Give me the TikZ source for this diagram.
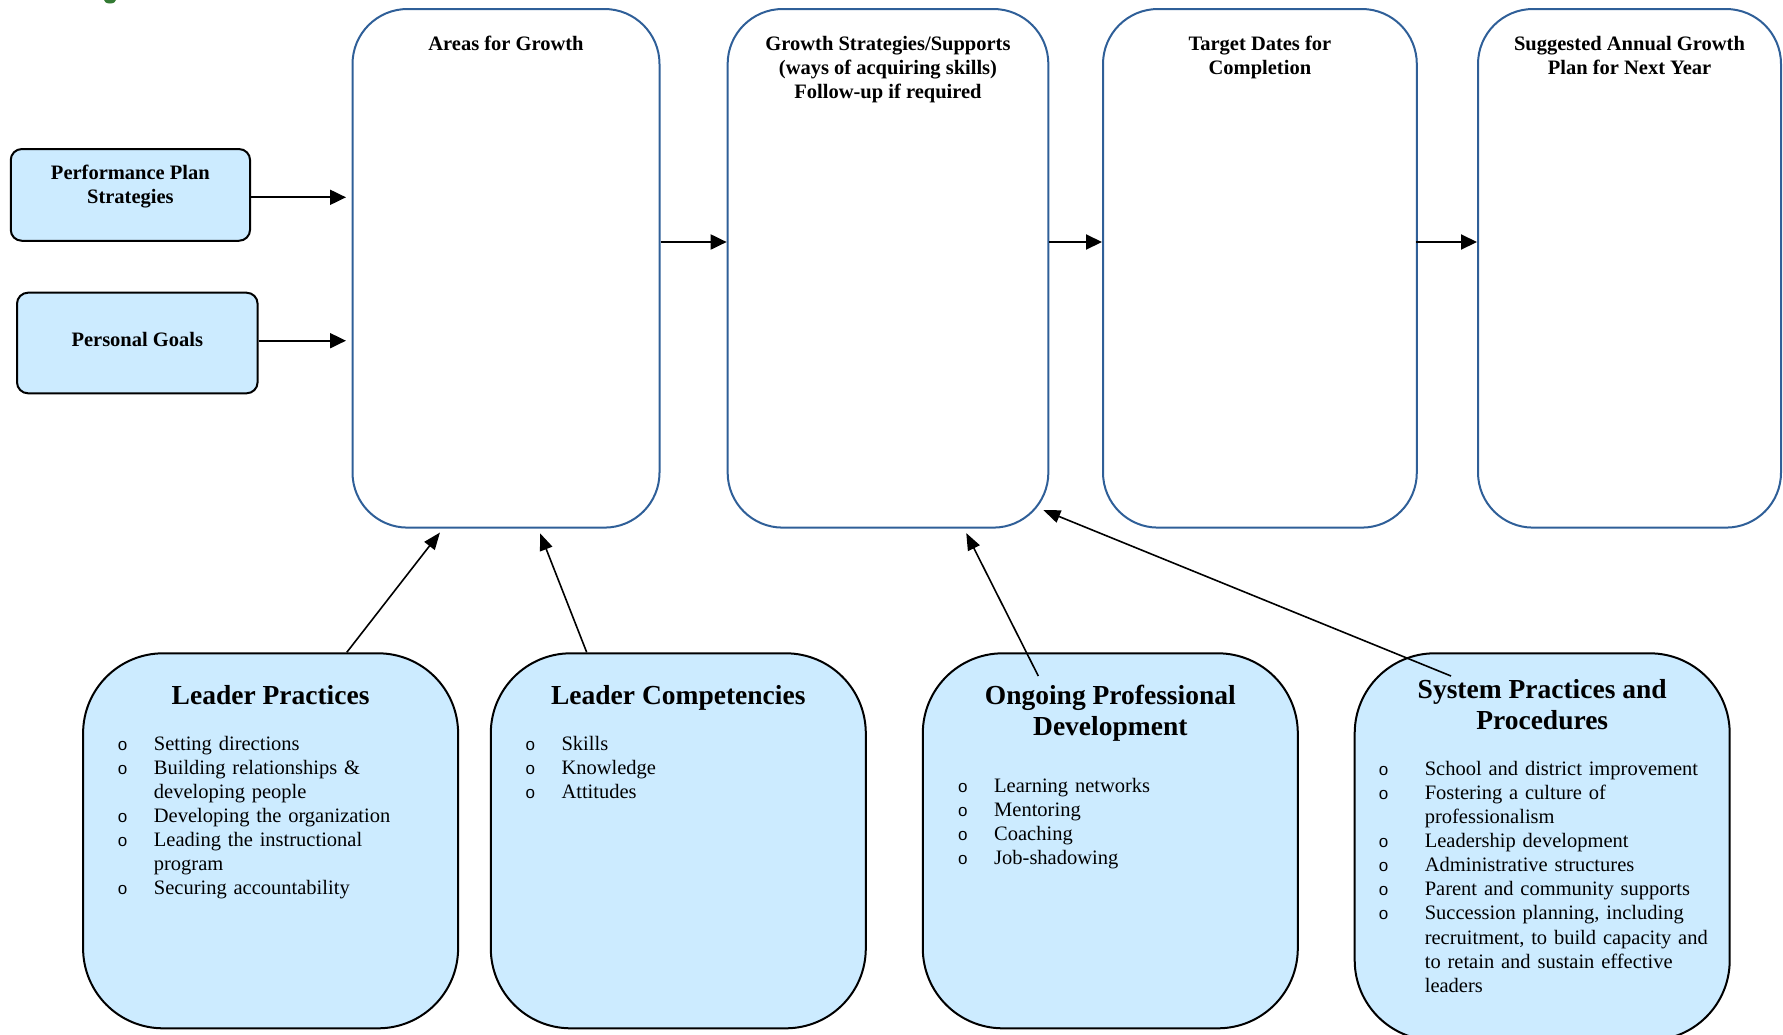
\documentclass[tikz,border=0pt]{standalone}
\usepackage{fontspec}
\setmainfont{Liberation Serif}
\newfontfamily\bulletfont{Liberation Sans}
\usetikzlibrary{arrows.meta}

\definecolor{boxblue}{RGB}{47,95,152}
\definecolor{paleblue}{RGB}{204,235,255}

% hanging bullet for the lists in the lower boxes
\newlength\bhang
\setlength\bhang{36pt}
\newcommand\bitem[1]{\par\hangindent=\bhang\hangafter=1\noindent\hbox to \bhang{\bulletfont\fontsize{17}{17}\selectfont o\hfil}#1\par}
\newcommand\itemcr{\hfil\break}

\tikzset{
  plan/.style={draw=boxblue, line width=2pt, rounded corners=55pt, minimum height=518.6pt, inner sep=0pt},
  source/.style={draw, line width=2pt, fill=paleblue, rounded corners=11pt, inner sep=0pt},
  factor/.style={draw, line width=2pt, fill=paleblue, rounded corners=80pt, minimum width=375pt, inner sep=0pt},
  head/.style={font=\bfseries\fontsize{20.5}{24}\selectfont, align=center, anchor=north, inner sep=0pt},
  bighead/.style={font=\bfseries\fontsize{27.5}{31}\selectfont, align=center, anchor=north, inner sep=0pt},
  items/.style={font=\fontsize{20.5}{24.1}\selectfont, text width=360pt, align=left, anchor=north west, inner sep=0pt},
  flow/.style={line width=2pt, -{Triangle[length=16pt,width=15pt]}},
  feed/.style={line width=1.6pt, -{Triangle[length=17pt,width=13pt]}}
}

\begin{document}
\begin{tikzpicture}[x=1pt,y=-1pt]
\useasboundingbox (0,0) rectangle (1783,1034);
\clip (0,0) rectangle (1783,1034);

% scrap of a picture cut off at the top edge
\fill[green!35!black!80] (110,0) ellipse (6 and 3.5);

% the four columns of the plan
\node[plan, minimum width=307pt] (areas) at (506,268.3) {};
\node[plan, minimum width=320.7pt] (growth) at (888,268.3) {};
\node[plan, minimum width=313.8pt] (target) at (1259.9,268.3) {};
\node[plan, minimum width=303pt] (nextyear) at (1629.5,268.3) {};

\node[head] (areastitle) at (506,35.8) {Areas for Growth};
\node[head] (growthtitle) at (888,36.3) {Growth Strategies/Supports\\(ways of acquiring skills)\\Follow-up if required};
\node[head] (targettitle) at (1259.9,35.8) {Target Dates for\\Completion};
\node[head] (nextyeartitle) at (1629.5,35.8) {Suggested Annual Growth\\Plan for Next Year};

% inputs on the left
\node[source, minimum width=239.3pt, minimum height=91.7pt] (plan) at (130.4,194.9) {};
\node[head] (plantext) at (130.4,164.5) {Performance Plan\\Strategies};
\node[source, minimum width=240.6pt, minimum height=100.6pt] (goals) at (137.3,343) {};
\node[head] (goalstext) at (137.3,331.8) {Personal Goals};

% the four sources of growth
\node[factor, minimum height=375pt] (practices) at (270.6,840.8) {};
\node[factor, minimum height=375pt] (competencies) at (678.3,840.8) {};
\node[factor, minimum height=375pt] (development) at (1110.3,840.8) {};
\node[factor, minimum height=387pt] (system) at (1542.2,846.8) {};

\node[bighead] (practicestitle) at (270.6,685.4) {Leader Practices};
\node[bighead] (competenciestitle) at (678.3,685.4) {Leader Competencies};
\node[bighead] (developmenttitle) at (1110.3,684.9) {Ongoing Professional\\Development};
\node[bighead] (systemtitle) at (1542.2,679.3) {System Practices and\\Procedures};

\node[items] (practiceslist) at (117.7,726) {%
\bitem{Setting directions}
\bitem{Building relationships \&\itemcr developing people}
\bitem{Developing the organization}
\bitem{Leading the instructional\itemcr program}
\bitem{Securing accountability}};
\node[items] (competencieslist) at (525.3,726) {%
\bitem{Skills}
\bitem{Knowledge}
\bitem{Attitudes}};
\node[items] (developmentlist) at (958,767.7) {%
\bitem{Learning networks}
\bitem{Mentoring}
\bitem{Coaching}
\bitem{Job-shadowing}};
\node[items] (systemlist) at (1378.6,751) {\setlength\bhang{46pt}%
\bitem{School and district improvement}
\bitem{Fostering a culture of\itemcr professionalism}
\bitem{Leadership development}
\bitem{Administrative structures}
\bitem{Parent and community supports}
\bitem{Succession planning, including\itemcr recruitment, to build capacity and\itemcr to retain and sustain effective\itemcr leaders}};

% arrows along the top row
\draw[flow, shorten >=5.5pt] ([yshift=-2.4pt]plan.east) -- ([yshift=-2.4pt]plan.east -| areas.west);
\draw[flow, shorten >=5.5pt] ([yshift=2.3pt]goals.east) -- ([yshift=2.3pt]goals.east -| areas.west);
\draw[flow] ([yshift=26.3pt]areas.east) -- ([yshift=26.3pt]growth.west);
\draw[flow] ([yshift=26.3pt]growth.east) -- ([yshift=26.3pt]target.west);
\draw[flow] ([xshift=-2pt,yshift=26.3pt]target.east) -- ([yshift=26.3pt]nextyear.west);

% arrows up from the lower boxes
\draw[feed, shorten >=5pt] ([xshift=76.2pt]practices.north) -- ([xshift=-63pt]areas.south);
\draw[feed, shorten >=5pt] ([xshift=-91.6pt]competencies.north) -- ([xshift=32.2pt]areas.south);
\draw[feed, shorten >=5pt] ([xshift=-72pt,yshift=-23.7pt]development.north) -- ([xshift=76pt]growth.south);
\draw[feed] ([xshift=-91.2pt,yshift=-23.7pt]system.north) -- ([xshift=-6pt,yshift=18.5pt]growth.south east);
\end{tikzpicture}
\end{document}
